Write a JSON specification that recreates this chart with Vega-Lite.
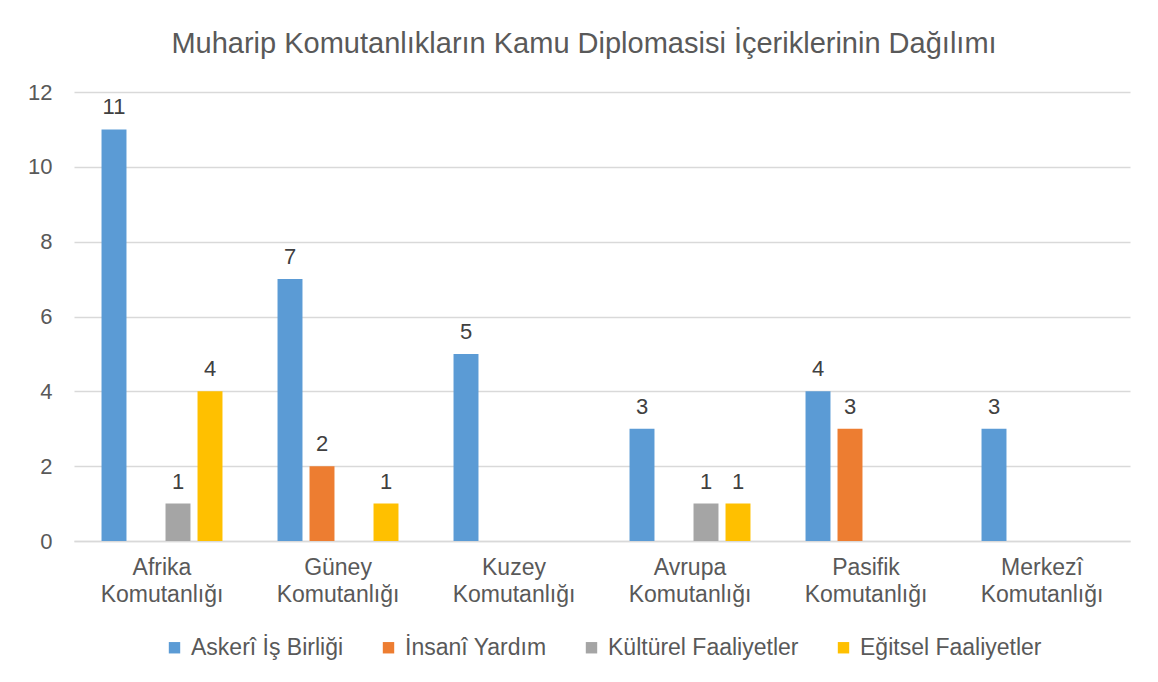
{
  "$schema": "https://vega.github.io/schema/vega-lite/v6.json",
  "autosize": "none",
  "width": 1056,
  "height": 449,
  "padding": {"left": 74, "top": 92, "right": 28, "bottom": 141},
  "background": "white",
  "config": {
    "font": "Liberation Sans",
    "view": {"stroke": null},
    "legend": {"layout": {"bottom": {"anchor": "middle"}}}
  },
  "title": {
    "text": "Muharip Komutanlıkların Kamu Diplomasisi İçeriklerinin Dağılımı",
    "fontSize": 29,
    "fontWeight": "normal",
    "color": "#595959",
    "anchor": "middle",
    "frame": "group",
    "dx": -18,
    "offset": 22
  },
  "data": {
    "values": [
      {"komutanlik": "Afrika Komutanlığı", "tur": "Askerî İş Birliği", "deger": 11},
      {"komutanlik": "Afrika Komutanlığı", "tur": "Kültürel Faaliyetler", "deger": 1},
      {"komutanlik": "Afrika Komutanlığı", "tur": "Eğitsel Faaliyetler", "deger": 4},
      {"komutanlik": "Güney Komutanlığı", "tur": "Askerî İş Birliği", "deger": 7},
      {"komutanlik": "Güney Komutanlığı", "tur": "İnsanî Yardım", "deger": 2},
      {"komutanlik": "Güney Komutanlığı", "tur": "Eğitsel Faaliyetler", "deger": 1},
      {"komutanlik": "Kuzey Komutanlığı", "tur": "Askerî İş Birliği", "deger": 5},
      {"komutanlik": "Avrupa Komutanlığı", "tur": "Askerî İş Birliği", "deger": 3},
      {"komutanlik": "Avrupa Komutanlığı", "tur": "Kültürel Faaliyetler", "deger": 1},
      {"komutanlik": "Avrupa Komutanlığı", "tur": "Eğitsel Faaliyetler", "deger": 1},
      {"komutanlik": "Pasifik Komutanlığı", "tur": "Askerî İş Birliği", "deger": 4},
      {"komutanlik": "Pasifik Komutanlığı", "tur": "İnsanî Yardım", "deger": 3},
      {"komutanlik": "Merkezî Komutanlığı", "tur": "Askerî İş Birliği", "deger": 3}
    ]
  },
  "encoding": {
    "x": {
      "field": "komutanlik",
      "type": "nominal",
      "sort": ["Afrika Komutanlığı", "Güney Komutanlığı", "Kuzey Komutanlığı", "Avrupa Komutanlığı", "Pasifik Komutanlığı", "Merkezî Komutanlığı"],
      "scale": {"paddingInner": 0, "paddingOuter": 0},
      "axis": {
        "title": null,
        "labelAngle": 0,
        "labelFontSize": 23,
        "labelColor": "#595959",
        "labelExpr": "split(datum.label, ' ')",
        "labelLineHeight": 27,
        "labelPadding": 15,
        "ticks": false,
        "domain": true,
        "domainColor": "#d9d9d9",
        "domainWidth": 1.5,
        "grid": false
      }
    },
    "xOffset": {
      "field": "tur",
      "type": "nominal",
      "sort": ["Askerî İş Birliği", "İnsanî Yardım", "Kültürel Faaliyetler", "Eğitsel Faaliyetler"],
      "scale": {
        "domain": ["Askerî İş Birliği", "İnsanî Yardım", "Kültürel Faaliyetler", "Eğitsel Faaliyetler"],
        "paddingInner": 0.22,
        "paddingOuter": 0.86
      }
    },
    "y": {
      "field": "deger",
      "type": "quantitative",
      "scale": {"domain": [0, 12]},
      "axis": {
        "title": null,
        "values": [0, 2, 4, 6, 8, 10, 12],
        "labelFontSize": 22,
        "labelColor": "#595959",
        "labelPadding": 22,
        "ticks": false,
        "domain": false,
        "gridColor": "#d9d9d9",
        "gridWidth": 1.5
      }
    }
  },
  "layer": [
    {
      "mark": {"type": "bar"},
      "encoding": {
        "color": {
          "field": "tur",
          "type": "nominal",
          "scale": {
            "domain": ["Askerî İş Birliği", "İnsanî Yardım", "Kültürel Faaliyetler", "Eğitsel Faaliyetler"],
            "range": ["#5B9BD5", "#ED7D31", "#A5A5A5", "#FFC000"]
          },
          "legend": {
            "title": null,
            "orient": "bottom",
            "direction": "horizontal",
            "symbolType": "square",
            "symbolSize": 130,
            "symbolStrokeWidth": 0,
            "labelFontSize": 23,
            "labelColor": "#595959",
            "labelOffset": 5,
            "columnPadding": 33,
            "offset": 30,
            "labelLimit": 300
          }
        }
      }
    },
    {
      "mark": {"type": "text", "baseline": "alphabetic", "dy": -15, "fontSize": 22, "color": "#404040"},
      "encoding": {
        "text": {"field": "deger", "type": "quantitative"}
      }
    }
  ]
}
